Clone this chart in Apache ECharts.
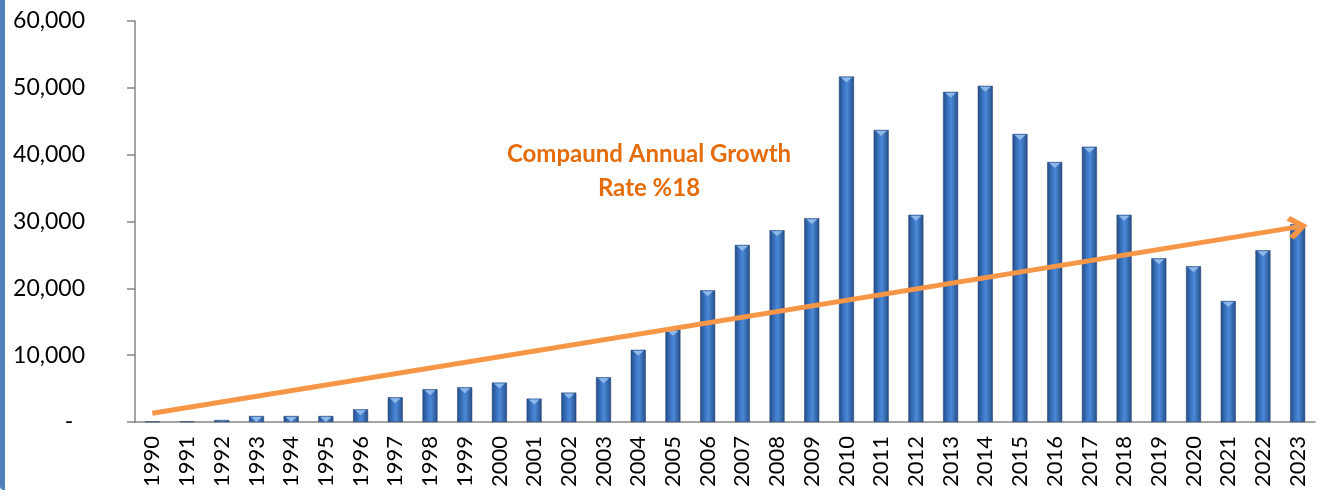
<!DOCTYPE html>
<html>
<head>
<meta charset="utf-8">
<script src="https://cdn.jsdelivr.net/npm/echarts@6/dist/echarts.min.js"></script>
<style>
  html, body { margin: 0; padding: 0; background: #fff; }
  #chart { width: 1325px; height: 496px; }
</style>
</head>
<body>
<div id="chart"></div>
<script>
// yearly values
const years = ['1990', '1991', '1992', '1993', '1994', '1995', '1996', '1997', '1998', '1999',
  '2000', '2001', '2002', '2003', '2004', '2005', '2006', '2007', '2008', '2009',
  '2010', '2011', '2012', '2013', '2014', '2015', '2016', '2017', '2018', '2019',
  '2020', '2021', '2022', '2023'];
const values = [60, 80, 300, 900, 900, 900, 1900, 3700, 4900, 5200,
  5900, 3500, 4400, 6700, 10800, 13800, 19700, 26500, 28700, 30500,
  51700, 43700, 31000, 49400, 50300, 43100, 38900, 41200, 31000, 24500,
  23300, 18100, 25700, 29600];
// trend arrow end points
const trendStart = ['1990', 1300];
const trendEnd = ['2023', 29200];
const noteLines = ['Compaund Annual Growth', 'Rate %18'];

const chart = echarts.init(document.getElementById('chart'));

const font = 'Lato, "Open Sans", sans-serif';
const axisGray = '#868686';

// bevel triangles only where the bar is tall enough to hold one
const caps = values.map(v => v < 600 ? { value: v, symbolSize: [0, 0] } : v);

chart.setOption({
  animation: false,
  backgroundColor: '#fff',
  grid: { left: 135, right: 10, top: 21, bottom: 74 },
  xAxis: {
    type: 'category',
    data: years,
    axisLine: { lineStyle: { color: axisGray, width: 1.5 } },
    axisTick: { length: 8, lineStyle: { color: axisGray, width: 1.5 } },
    axisLabel: { rotate: 90, color: '#000', fontFamily: font, fontSize: 22, margin: 14 }
  },
  yAxis: {
    type: 'value',
    min: 0,
    max: 60000,
    interval: 10000,
    axisLine: { show: true, lineStyle: { color: axisGray, width: 1.5 } },
    axisTick: { show: true, length: 8, lineStyle: { color: axisGray, width: 1.5 } },
    splitLine: { show: false },
    axisLabel: {
      color: '#000', fontFamily: font, fontSize: 23, margin: 50,
      formatter: v => v === 0 ? '-  ' : v.toLocaleString('en-US')
    }
  },
  series: [
    {
      type: 'bar',
      data: values,
      barWidth: 15,
      itemStyle: {
        color: new echarts.graphic.LinearGradient(0, 0, 1, 0, [
          { offset: 0, color: '#234c86' },
          { offset: 0.35, color: '#3c77c6' },
          { offset: 0.55, color: '#4b88d6' },
          { offset: 1, color: '#244d88' }
        ]),
        borderColor: '#1f3f6e',
        borderWidth: 0.5
      },
      markLine: {
        silent: true,
        symbol: ['none', 'path://M10,0 L20,11 L16.5,14 L10,6 L3.5,14 L0,11 Z'],
        symbolSize: [24, 20],
        symbolKeepAspect: false,
        lineStyle: { color: '#f79646', width: 5, type: 'solid' },
        label: { show: false },
        data: [[
          { coord: trendStart },
          { coord: trendEnd }
        ]]
      }
    },
    {
      // light bevel triangle on top of each bar
      type: 'pictorialBar',
      data: caps,
      symbol: 'triangle',
      symbolRotate: 180,
      symbolSize: [11, 5],
      symbolPosition: 'end',
      symbolOffset: [0, 1],
      itemStyle: { color: '#8db8ea' },
      z: 3
    }
  ],
  graphic: [
    {
      type: 'rect',
      left: 0, top: 0,
      shape: { width: 5, height: 490, r: [0, 0, 0, 4] },
      style: { fill: '#4f81bd' }
    },
    {
      type: 'text',
      x: 649, y: 137,
      style: {
        text: noteLines.join('\n'),
        fill: '#e46c0a',
        font: 'bold 24px ' + font,
        textAlign: 'center',
        lineHeight: 34
      }
    }
  ]
});
</script>
</body>
</html>
